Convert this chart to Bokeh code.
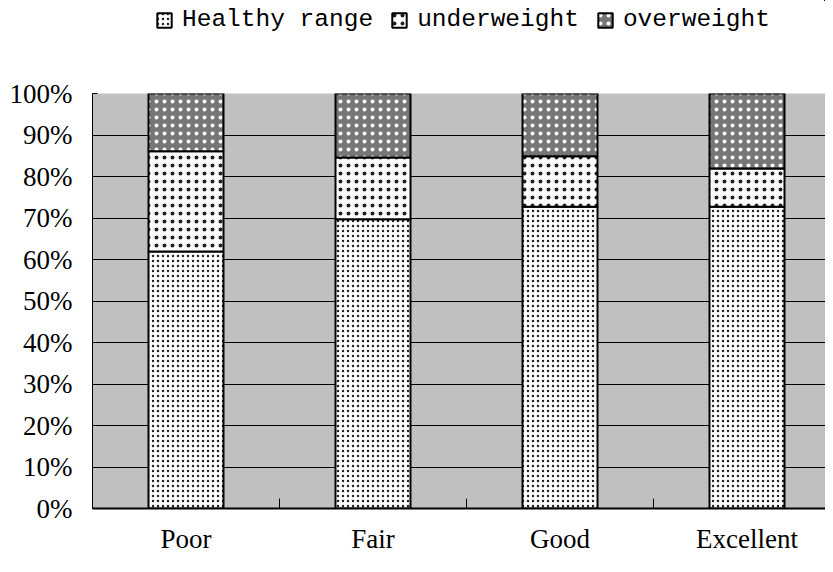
from bokeh.plotting import figure
from bokeh.layouts import column
from bokeh.models import (ColumnDataSource, Range1d, FixedTicker, PrintfTickFormatter, Legend)
from bokeh.embed import file_html
from bokeh.resources import INLINE

# ---- data ----
categories = ["Poor", "Fair", "Good", "Excellent"]
healthy = [61.9, 69.7, 72.7, 72.7]
underweight = [24.2, 14.9, 12.2, 9.2]
overweight = [13.9, 15.4, 15.1, 18.1]
series_names = ["Healthy range", "underweight", "overweight"]
y_ticks = [0, 10, 20, 30, 40, 50, 60, 70, 80, 90, 100]

# ---- styles ----
stack_cols = ["healthy", "under", "over"]
fills = ["white", "white", "#767676"]
hatch_colors = ["#222222", "#222222", "white"]
hatch_scales = [5, 8, 8]
hatch_weights = [1.2, 1.0, 1.8]

xs = [i + 0.5 for i in range(len(categories))]
bounds = [i + 1 for i in range(len(categories) - 1)]
source = ColumnDataSource(dict(x=xs, healthy=healthy, under=underweight, over=overweight))

# ---- main chart ----
p = figure(frame_width=733, frame_height=415, output_backend="svg", toolbar_location=None,
           x_range=Range1d(0, 733 / 187), y_range=Range1d(0, 100),
           min_border_left=92, min_border_right=0, min_border_top=20, min_border_bottom=48)

p.background_fill_color = "#c0c0c0"
p.outline_line_color = None

p.vbar_stack(
    stack_cols, x="x", width=75 / 187, source=source,
    fill_color=fills, hatch_pattern=[".", ".", "."], hatch_color=hatch_colors,
    hatch_scale=hatch_scales, hatch_weight=hatch_weights,
    line_color="black", line_width=2,
)

p.yaxis.ticker = FixedTicker(ticks=y_ticks)
p.yaxis.formatter = PrintfTickFormatter(format="%d%%")
p.yaxis.major_label_text_font = "Liberation Serif"
p.yaxis.major_label_text_font_size = "27px"
p.yaxis.major_label_text_color = "black"
p.yaxis.major_label_standoff = 20
p.yaxis.major_tick_in = 5
p.yaxis.major_tick_out = 0
p.yaxis.minor_tick_line_color = None
p.yaxis.axis_line_color = "black"

p.xaxis.ticker = FixedTicker(ticks=xs, minor_ticks=bounds)
p.xaxis.major_label_overrides = {x: c for x, c in zip(xs, categories)}
p.xaxis.major_label_text_font = "Liberation Serif"
p.xaxis.major_label_text_font_size = "27px"
p.xaxis.major_label_text_color = "black"
p.xaxis.major_label_standoff = 15
p.xaxis.major_tick_line_color = None
p.xaxis.major_tick_in = 0
p.xaxis.major_tick_out = 0
p.xaxis.minor_tick_in = 10
p.xaxis.minor_tick_out = 0
p.xaxis.minor_tick_line_color = "black"
p.xaxis.minor_tick_line_width = 1
p.xaxis.axis_line_color = "black"
p.xaxis.axis_line_width = 2

p.xgrid.visible = False
p.ygrid.ticker = FixedTicker(ticks=y_ticks)
p.ygrid.grid_line_color = "black"
p.ygrid.grid_line_width = 1

# ---- legend strip (same stack drawn out of view, only its legend shows) ----
pl = figure(width=825, height=73, output_backend="svg", toolbar_location=None,
            x_range=Range1d(-20, -19), y_range=Range1d(-20, -19),
            x_axis_location=None, y_axis_location=None,
            min_border_left=0, min_border_right=0, min_border_top=0, min_border_bottom=0)
pl.outline_line_color = None
pl.xgrid.visible = False
pl.ygrid.visible = False
proxies = pl.vbar_stack(
    stack_cols, x="x", width=75 / 187, source=source,
    fill_color=fills, hatch_pattern=[".", ".", "."], hatch_color=hatch_colors,
    hatch_scale=hatch_scales, hatch_weight=hatch_weights,
    line_color="black", line_width=2,
)

legend = Legend(items=[(n, [r]) for n, r in zip(series_names, proxies)],
                orientation="horizontal", location=(63, 40),
                glyph_width=18, glyph_height=18, label_standoff=9, spacing=17,
                padding=0, margin=0, border_line_alpha=0, background_fill_alpha=0,
                label_text_font="Liberation Mono", label_text_font_size="24.5px",
                label_text_color="black")
pl.add_layout(legend)

layout = column(pl, p, spacing=0)
open("out.html", "w").write(file_html(layout, INLINE))
